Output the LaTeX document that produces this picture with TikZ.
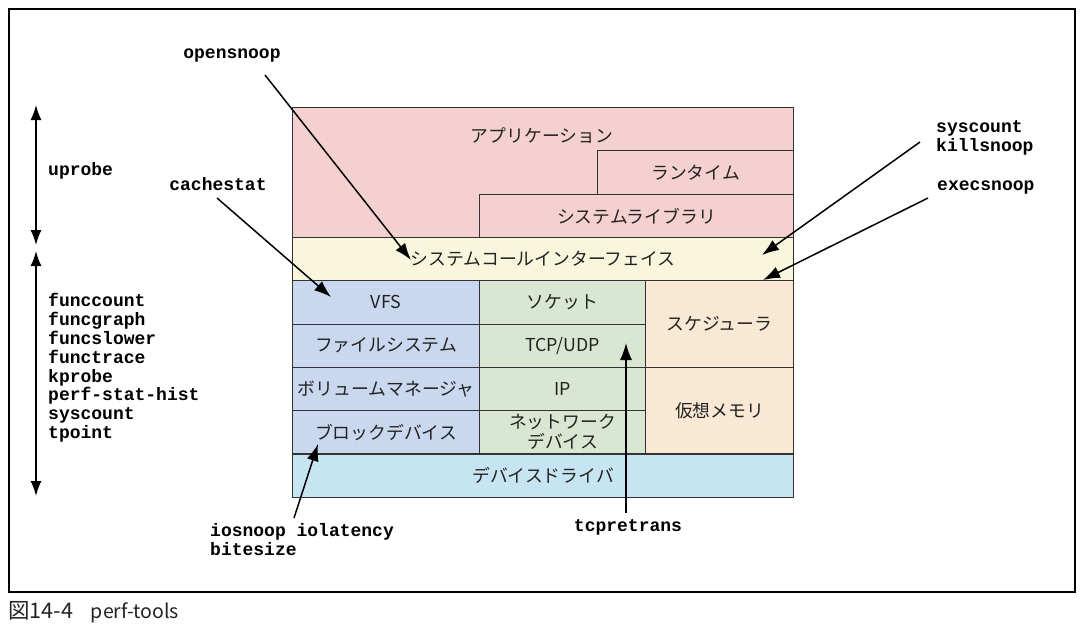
\documentclass[tikz,border=0pt]{standalone}
\usepackage{fontspec}
\setmainfont{Noto Sans CJK JP}
\newfontfamily\monof{Liberation Mono}
\usetikzlibrary{arrows.meta}
\definecolor{appc}{HTML}{F4D1D0}
\definecolor{scic}{HTML}{F8F6DC}
\definecolor{bluc}{HTML}{C9D8EE}
\definecolor{grnc}{HTML}{D9E6D1}
\definecolor{orgc}{HTML}{F9E8D3}
\definecolor{drvc}{HTML}{C6E4F1}
\definecolor{boxline}{HTML}{333333}
\definecolor{txt}{HTML}{222222}
\tikzset{
  box/.style={draw=boxline, line width=1.1pt, inner sep=0pt, anchor=north west,
    font=\fontsize{17.8}{19}\selectfont, text=txt, align=center},
  jtext/.style={inner sep=0pt, font=\fontsize{17.8}{19}\selectfont, text=txt},
  tool/.style={font=\monof\bfseries\fontsize{18}{18.8}\selectfont, inner sep=0pt, align=left},
  arr/.style={line width=1.5pt, -{Latex[length=17pt,width=12pt]}},
  twoarr/.style={line width=1.5pt, {Latex[length=15pt,width=11pt]}-{Latex[length=15pt,width=11pt]}}
}
\begin{document}
\begin{tikzpicture}[x=1pt,y=-1pt]
\useasboundingbox (0,0) rectangle (1082,632);
\node[draw=black, line width=1.5pt, minimum width=1066pt, minimum height=583pt, anchor=north west, inner sep=0pt] (frame) at (8,8) {};
% boxes
\node[box, fill=appc, minimum width=501pt, minimum height=129.9pt] (app) at (292,107) {};
\node[jtext] (apptxt) at (542,136) {アプリケーション};
\node[box, fill=appc, minimum width=196pt, minimum height=43.3pt] (rt) at (597,150.3) {ランタイム};
\node[box, fill=appc, minimum width=314pt, minimum height=43.3pt] (lib) at (479,193.6) {システムライブラリ};
\node[box, fill=scic, minimum width=501pt, minimum height=43.3pt] (sci) at (292,236.9) {システムコールインターフェイス};
\node[box, fill=bluc, minimum width=187pt, minimum height=43.3pt] (vfs) at (292,280.2) {VFS};
\node[box, fill=bluc, minimum width=187pt, minimum height=43.3pt] (fs) at (292,323.5) {ファイルシステム};
\node[box, fill=bluc, minimum width=187pt, minimum height=43.3pt] (vol) at (292,366.8) {ボリュームマネージャ};
\node[box, fill=bluc, minimum width=187pt, minimum height=43.3pt] (blk) at (292,410.1) {ブロックデバイス};
\node[box, fill=grnc, minimum width=166pt, minimum height=43.3pt] (sock) at (479,280.2) {ソケット};
\node[box, fill=grnc, minimum width=166pt, minimum height=43.3pt] (tcp) at (479,323.5) {TCP/UDP};
\node[box, fill=grnc, minimum width=166pt, minimum height=43.3pt] (ip) at (479,366.8) {IP};
\node[box, fill=grnc, minimum width=166pt, minimum height=43.3pt, font=\fontsize{17.8}{20}\selectfont] (net) at (479,410.1) {ネットワーク\\デバイス};
\node[box, fill=orgc, minimum width=148pt, minimum height=86.6pt] (sched) at (645,280.2) {スケジューラ};
\node[box, fill=orgc, minimum width=148pt, minimum height=86.6pt] (vm) at (645,366.8) {仮想メモリ};
\node[box, fill=drvc, minimum width=501pt, minimum height=43.3pt] (drv) at (292,453.4) {デバイスドライバ};
% tool labels
\node[tool] (opensnoop) at (232,56) {opensnoop};
\node[tool] (cachestat) at (218,184) {cachestat};
\node[tool, anchor=west] (uprobe) at (48,171) {uprobe};
\node[tool, anchor=west] (kern) at (48,368) {funccount\\funcgraph\\funcslower\\functrace\\kprobe\\perf-stat-hist\\syscount\\tpoint};
\node[tool, anchor=west] (sysk) at (936,137.5) {syscount\\killsnoop};
\node[tool, anchor=west] (exec) at (937,188) {execsnoop};
\node[tool, anchor=west] (io) at (210,539.5) {iosnoop iolatency\\bitesize};
\node[tool] (tcpre) at (628,527) {tcpretrans};
% caption
\node[anchor=west, inner sep=0pt, text=txt] (cap) at (8,612) {{\fontsize{21.5}{22}\selectfont 図14-4}\hspace{18pt}{\fontsize{19.5}{21}\selectfont perf-tools}};
% arrow end points
\coordinate (os1) at (265,75);   \coordinate (os2) at (411,260);
\coordinate (cs1) at (217,198);  \coordinate (cs2) at (331,297);
\coordinate (sk1) at (920,142);  \coordinate (sk2) at (762,255);
\coordinate (ex1) at (928,198);  \coordinate (ex2) at (763,280);
\coordinate (io1) at (294,518);  \coordinate (io2) at (318,444);
\coordinate (tc1) at (626,513);  \coordinate (tc2) at (626,343);
\coordinate (u1) at (36,105);    \coordinate (u2) at (36,245);
\coordinate (k1) at (36,251);    \coordinate (k2) at (36,496);
\draw[arr] (os1) -- (os2);
\draw[arr] (cs1) -- (cs2);
\draw[arr] (sk1) -- (sk2);
\draw[arr] (ex1) -- (ex2);
\draw[arr] (io1) -- (io2);
\draw[arr] (tc1) -- (tc2);
\draw[twoarr] (u1) -- (u2);
\draw[twoarr] (k1) -- (k2);
\end{tikzpicture}
\end{document}
